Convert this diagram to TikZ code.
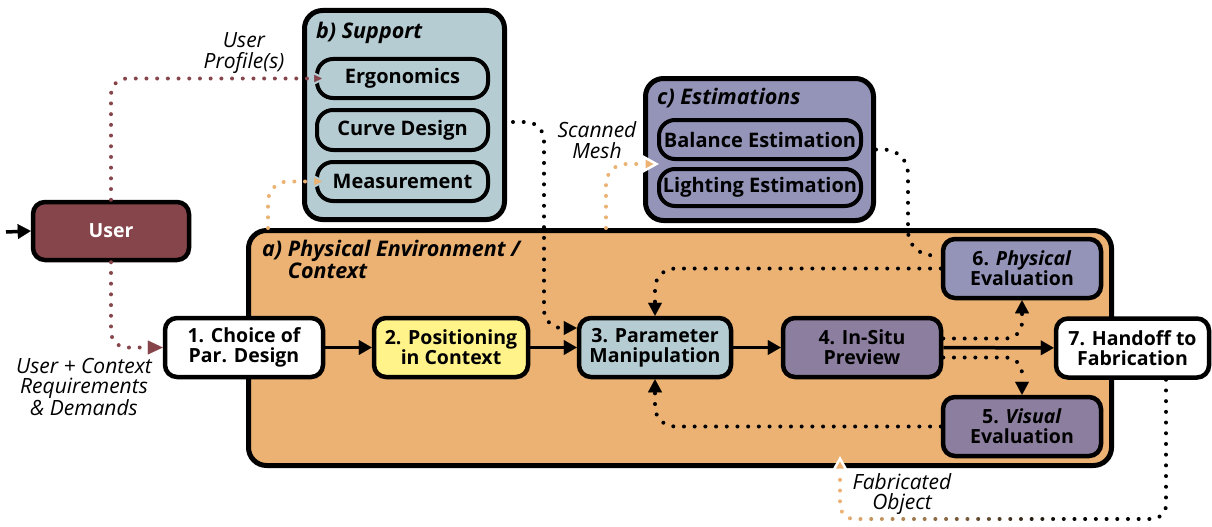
\documentclass[tikz,border=0pt]{standalone}
\usepackage{fontspec}
\setmainfont{Open Sans}
\usetikzlibrary{arrows.meta}
\definecolor{cmaroon}{HTML}{86454A}
\definecolor{csupport}{HTML}{B5CCD2}
\definecolor{cest}{HTML}{9394B8}
\definecolor{corange}{HTML}{EBB273}
\definecolor{cyellow}{HTML}{FFF38A}
\definecolor{cpurple}{HTML}{8C7E9E}
\tikzset{
  box/.style={draw=black, line width=4.5pt, rounded corners=12pt, align=center,
    inner sep=0pt, font=\bfseries\fontsize{19.5}{20}\selectfont},
  grp/.style={draw=black, line width=5pt, rounded corners=18pt, inner sep=0pt},
  sub/.style={draw=black, line width=4pt, rounded corners=16pt, inner sep=0pt,
    font=\bfseries\fontsize{20}{20}\selectfont},
  ttl/.style={anchor=west, align=left, inner sep=0pt,
    font=\bfseries\itshape\fontsize{21.5}{20}\selectfont},
  lab/.style={align=center, inner sep=0pt, font=\itshape\fontsize{21}{20.5}\selectfont},
  dotline/.style={line width=4pt, line cap=round, dash pattern=on 0pt off 10.7pt},
  solidarrow/.style={line width=3.5pt, -{Triangle[length=13pt,width=15pt,line width=0.1pt]}},
  ktip/.style={-{Triangle[length=13pt,width=14pt,line width=0.1pt]}},
}
\begin{document}
\begin{tikzpicture}[x=1pt,y=-1pt]
\useasboundingbox (0,0) rectangle (1212,527);

% groups
\node[grp, fill=corange, minimum width=863pt, minimum height=235pt] (phys) at (680,348) {};
\node[grp, fill=csupport, minimum width=200pt, minimum height=209pt] (supp) at (404.5,115) {};
\node[grp, fill=cest, minimum width=228pt, minimum height=142pt] (est) at (759.5,149.5) {};

\node[ttl] (tphys) at (262,261) {a) Physical Environment /\\\phantom{a) }Context};
\node[ttl] (tsupp) at (316,33) {b) Support};
\node[ttl] (test) at (657,98) {c) Estimations};

% support items
\node[sub, fill=csupport, minimum width=171pt, minimum height=39pt] (ergo) at (402.5,78.5) {Ergonomics};
\node[sub, fill=csupport, minimum width=171pt, minimum height=40pt] (cd) at (402.5,130) {Curve Design};
\node[sub, fill=csupport, minimum width=171pt, minimum height=39pt] (meas) at (402.5,181.5) {Measurement};
% estimation items
\node[sub, fill=cest, minimum width=202pt, minimum height=39pt] (bal) at (760,139.5) {Balance Estimation};
\node[sub, fill=cest, minimum width=202pt, minimum height=37pt] (light) at (760,187.5) {Lighting Estimation};

% main nodes
\node[box, fill=cmaroon, text=white, minimum width=156pt, minimum height=58pt] (user) at (111,231) {User};
\node[box, fill=white, minimum width=158pt, minimum height=59pt] (c1) at (244,347.5) {1. Choice of\\Par. Design};
\node[box, fill=cyellow, minimum width=154pt, minimum height=59pt] (c2) at (451,347.5) {2. Positioning\\in Context};
\node[box, fill=csupport, minimum width=152pt, minimum height=59pt] (pm) at (655,347.5) {3. Parameter\\Manipulation};
\node[box, fill=cpurple, minimum width=158pt, minimum height=59pt] (prev) at (862,347.5) {4. In-Situ\\Preview};
\node[box, fill=cest, minimum width=158pt, minimum height=59pt] (p6) at (1022,268.5) {6. \textit{Physical}\\Evaluation};
\node[box, fill=cpurple, minimum width=158pt, minimum height=59pt] (v5) at (1022,426.5) {5. \textit{Visual}\\Evaluation};
\node[box, fill=white, minimum width=153pt, minimum height=59pt] (h7) at (1132.5,348) {7. Handoff to\\Fabrication};

% labels
\node[lab] (lprof) at (244,53) {User\\Profile(s)};
\node[lab] (lscan) at (597,140) {Scanned\\Mesh};
\node[lab] (lreq) at (84,387) {User + Context\\Requirements\\\& Demands};
\node[lab] (lfab) at (902,494) {Fabricated\\Object};

% coordinates
\coordinate (uin) at (6,232);
\coordinate (ms0) at (268,228);
\coordinate (sm0) at (606,228);
\coordinate (smend) at (659,164);
\coordinate (k1) at (544,328);
\coordinate (k2) at (908,255);
\coordinate (k3) at (900,519);
\coordinate (fo) at (840,456);

% solid arrows
\draw[solidarrow] (uin) -- (user.west);
\draw[solidarrow] (c1) -- (c2);
\draw[solidarrow] (c2) -- (pm);
\draw[solidarrow] (pm) -- (prev);
\draw[solidarrow] (prev) -- (h7);

% maroon dotted
\draw[dotline, cmaroon, rounded corners=16pt,
  -{Triangle[length=15pt,width=14pt,line width=2pt,color=csupport,fill=cmaroon]}]
  (user.north) |- ([xshift=12pt]ergo.west);
\draw[dotline, cmaroon, rounded corners=16pt,
  -{Triangle[length=15pt,width=14pt,line width=0.1pt,fill=cmaroon]}]
  (user.south) |- (c1.west);

% orange dotted
\draw[dotline, corange, rounded corners=20pt,
  -{Triangle[length=15pt,width=14pt,line width=2pt,color=csupport,fill=corange]}]
  (ms0) |- ([xshift=12pt]meas.west);
\draw[dotline, corange, rounded corners=20pt,
  -{Triangle[length=16pt,width=17pt,line width=2.5pt,color=white,fill=corange]}]
  (sm0) |- (smend);

% black dotted
\draw[dotline, black, rounded corners=18pt, ktip]
  ([xshift=23pt,yshift=8pt]cd.east) -| (k1) -- ([yshift=19.5pt]pm.west);
\draw[dotline, black, rounded corners=24pt]
  (est.east) -| (k2) -- ([yshift=13pt]p6.west);
\draw[dotline, black, rounded corners=20pt, ktip] (p6.west) -| (pm.north);
\draw[dotline, black, rounded corners=20pt, ktip] (v5.west) -| (pm.south);
\draw[dotline, black, rounded corners=16pt, ktip] ([yshift=9pt]prev.east) -| (p6.south);
\draw[dotline, black, rounded corners=16pt, ktip] ([yshift=-10pt]prev.east) -| (v5.north);

% gradient connector 7 -> fabricated object
\foreach \i in {0,...,12}{
  \pgfmathsetmacro{\xa}{(\i==0) ? 780 : 830+20*\i}
  \pgfmathsetmacro{\xb}{(\i==12) ? 1212 : 850+20*\i}
  \pgfmathsetmacro{\pc}{100-100*\i/12}
  \begin{scope}
    \clip (\xa,0) rectangle (\xb,527);
    \draw[dotline, color=corange!\pc!black, rounded corners=14pt,
      -{Triangle[length=15pt,width=16pt,line width=2.5pt,color=white,fill=corange]}]
      ([xshift=33.5pt]h7.south) |- (k3) -| (fo);
  \end{scope}
}
\end{tikzpicture}
\end{document}
